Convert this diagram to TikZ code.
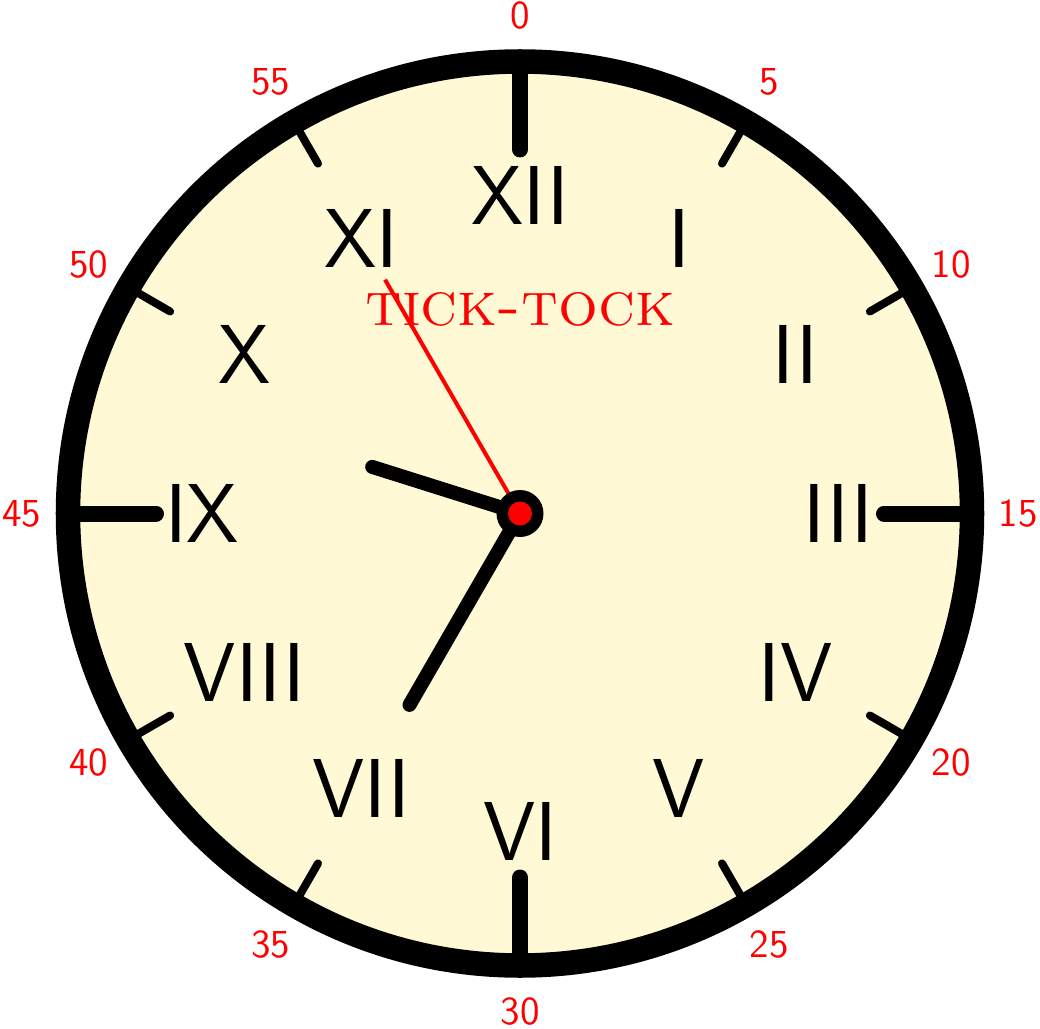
\documentclass[tikz,border=0pt]{standalone}
\definecolor{clockface}{RGB}{255,249,214}
\tikzset{
  numeral/.style={font=\sffamily\fontsize{23.8}{28}\selectfont},
  minutelabel/.style={text=red, font=\sffamily\fontsize{11.3}{13}\selectfont},
  hand/.style={line width=0.14cm, line cap=round}
}
\begin{document}
\begin{tikzpicture}[x=1cm,y=1cm]
\useasboundingbox (-5.2,-5.145) rectangle (5.2,5.135);
\coordinate (o) at (0,0);
% face and rim
\draw[line width=0.245cm, fill=clockface] (o) circle (4.52);
% hour ticks
\foreach \a in {30,60,120,150,210,240,300,330}
  \draw[line width=0.08cm, line cap=round] (\a:4.45) -- (\a:4.04);
\foreach \a in {0,90,180,270}
  \draw[line width=0.16cm, line cap=round] (\a:4.45) -- (\a:3.64);
% roman numerals
\foreach \h/\txt in {1/I,2/II,3/III,4/IV,5/V,6/VI,7/VII,8/VIII,9/IX,10/X,11/XI,12/XII}
  \node[numeral] (h\h) at ({90-30*\h}:3.18) {\txt};
% minute labels
\foreach \m in {0,5,...,55}
  \node[minutelabel] (m\m) at ({90-6*\m}:4.98) {\m};
\node[text=red, font=\fontsize{17.8}{20}\selectfont] (title) at (0,2.045) {\textsc{tick-tock}};
% hands
\coordinate (hourtip) at (162.5:1.55);
\coordinate (mintip) at (-120:2.21);
\coordinate (sectip) at (120:2.70);
\draw[hand] (o) -- (hourtip);
\draw[hand] (o) -- (mintip);
\draw[red, line width=0.04cm] (o) -- (sectip);
\node[circle, fill=black, minimum size=0.47cm, inner sep=0pt] (hub) at (o) {};
\node[circle, fill=red, minimum size=0.24cm, inner sep=0pt] (pin) at (o) {};
\end{tikzpicture}
\end{document}
